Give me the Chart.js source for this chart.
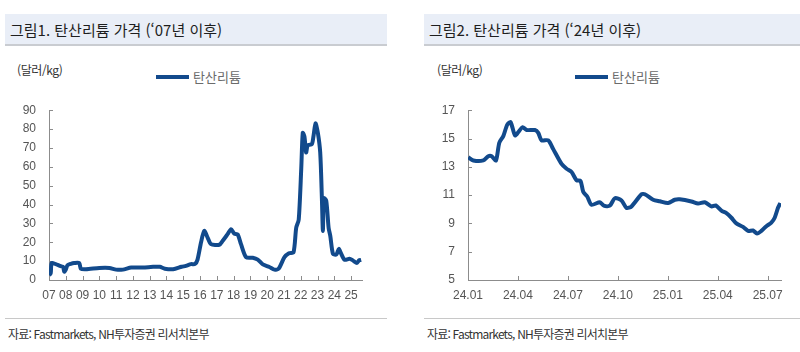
<!DOCTYPE html>
<html lang="ko">
<head>
<meta charset="utf-8">
<script src="https://cdn.jsdelivr.net/npm/chart.js@4/dist/chart.umd.min.js"></script>
<style>
  body { margin: 0; background: #fff; width: 800px; height: 352px; position: relative; overflow: hidden;
         font-family: "Noto Sans CJK KR", "Noto Sans", sans-serif; }
  .bar { position: absolute; top: 14px; height: 32px; background: #e9eef7; border-bottom: 2px solid #c9ccd1;
         font-size: 15px; line-height: 32px; color: #1e1e1e; padding-left: 5px; box-sizing: border-box; }
  .unit { position: absolute; top: 61px; font-size: 12px; color: #333; letter-spacing: -0.4px; }
  .legend { position: absolute; top: 67px; height: 20px; font-size: 13px; line-height: 20px; color: #6b6b6b; }
  .legend span { display: inline-block; width: 33px; height: 4px; vertical-align: middle; margin: -2px 4px 0 0; }
  .foot { position: absolute; top: 318px; height: 30px; border-top: 1px solid #c8c8c8;
          font-size: 12px; color: #333; letter-spacing: -0.8px; padding: 6px 0 0 3px; box-sizing: border-box; }
  canvas { position: absolute; top: 90px; }
</style>
</head>
<body>
<div class="bar" style="left:5px;width:382px">그림1. 탄산리튬 가격 (‘07년 이후)</div>
<div class="bar" style="left:424px;width:376px">그림2. 탄산리튬 가격 (‘24년 이후)</div>
<div class="unit" style="left:17px">(달러/kg)</div>
<div class="unit" style="left:437px">(달러/kg)</div>
<div class="legend" id="legendLong" style="left:156px"></div>
<div class="legend" id="legendRecent" style="left:575px"></div>
<canvas id="longChart" width="381" height="215" style="left:5px"></canvas>
<canvas id="recentChart" width="376" height="215" style="left:424px"></canvas>
<div class="foot" style="left:5px;width:382px">자료: Fastmarkets, NH투자증권 리서치본부</div>
<div class="foot" style="left:424px;width:376px">자료: Fastmarkets, NH투자증권 리서치본부</div>

<script>
// 그림1: '07년 이후 (x = 연도, 소수점은 연중 위치)
const longYears = [2007.0, 2007.1, 2007.16, 2007.4, 2007.7, 2007.84, 2007.91, 2008.0, 2008.1, 2008.3,
  2008.5, 2008.8, 2008.9, 2009.2, 2010.0, 2010.6, 2011.0, 2011.4, 2011.9, 2012.6,
  2013.2, 2013.6, 2013.9, 2014.4, 2014.9, 2015.16, 2015.46, 2015.7, 2015.85, 2016.06,
  2016.25, 2016.45, 2016.65, 2017.15, 2017.35, 2017.64, 2017.85, 2018.04, 2018.24, 2018.44,
  2018.74, 2019.14, 2019.44, 2019.74, 2020.13, 2020.43, 2020.69, 2021.03, 2021.3, 2021.57,
  2021.73, 2021.88, 2022.03, 2022.12, 2022.22, 2022.32, 2022.42, 2022.66, 2022.76, 2022.88,
  2023.02, 2023.16, 2023.26, 2023.32, 2023.38, 2023.52, 2023.66, 2023.76, 2023.92, 2024.12,
  2024.27, 2024.41, 2024.61, 2024.91, 2025.1, 2025.35, 2025.47, 2025.6]
const longPrice = [2.6, 3.5, 9, 8.4, 7.3, 7, 4.4, 5.5, 7.8, 8.6,
  9, 9, 6, 5.7, 6.4, 6.4, 5.5, 5.5, 6.6, 6.6,
  7, 7, 6, 5.7, 7, 7.5, 8.4, 8.5, 10.8, 20,
  26, 22.5, 19, 18.7, 20.8, 24.3, 26.9, 24.6, 24.2, 19,
  12.1, 11.8, 10.8, 8.3, 6.9, 5.5, 6.1, 12.1, 14.2, 14.7,
  27.7, 32, 59, 78, 76, 67.6, 71.5, 72, 76.3, 83,
  78, 67.6, 43.4, 26, 43.4, 42, 27.7, 23.4, 13.9, 13.5,
  16.5, 13.9, 10.7, 11.3, 10.4, 9.0, 10.4, 10.7]
const longTickLabels = ['07', '08', '09', '10', '11', '12', '13', '14', '15', '16',
  '17', '18', '19', '20', '21', '22', '23', '24', '25']

// 그림2: '24년 이후 (x = 24.01부터의 개월 수)
const recentMonths = [0.02, 0.32, 0.92, 1.22, 1.42, 1.68, 1.88, 2.12, 2.36, 2.56,
  2.82, 3.02, 3.28, 3.52, 4.02, 4.22, 4.42, 4.82, 5.12, 5.62,
  5.92, 6.22, 6.52, 6.76, 6.92, 7.16, 7.42, 7.92, 8.16, 8.52,
  8.82, 9.22, 9.52, 9.82, 10.42, 10.62, 11.12, 11.52, 12.02, 12.42,
  12.72, 13.42, 13.82, 14.22, 14.62, 14.88, 15.22, 15.52, 15.82, 16.12,
  16.52, 16.82, 17.12, 17.36, 17.62, 17.92, 18.22, 18.42, 18.62, 18.76]
const recentPrice = [13.67, 13.45, 13.45, 13.75, 13.75, 13.45, 14.7, 15.17, 15.98, 16.15,
  15.22, 15.45, 15.8, 15.6, 15.6, 15.4, 14.87, 14.87, 14.25, 13.2,
  12.86, 12.63, 12.05, 12.0, 11.24, 10.9, 10.32, 10.5, 10.25, 10.25,
  10.78, 10.62, 10.09, 10.2, 11.06, 11.06, 10.67, 10.56, 10.44, 10.67,
  10.7, 10.55, 10.4, 10.5, 10.2, 10.27, 9.9, 9.73, 9.4, 9.0,
  8.75, 8.47, 8.5, 8.28, 8.47, 8.8, 9.05, 9.4, 10.1, 10.44]
const recentTickLabels = ['24.01', '24.04', '24.07', '24.10', '25.01', '25.04', '25.07']

const seriesName = '탄산리튬'
const lineColor = '#124a8c'
const axisColor = '#8c8c8c'
const tickFont = { family: "'Liberation Sans Narrow', 'Liberation Sans', Arial, sans-serif", size: 12 }

/**
 * 축 안쪽으로 짧은 눈금선을 그린다.
 */
const innerTicks = {
    id: 'innerTicks',
    beforeDatasetsDraw(chart) {
        const { ctx, scales: { x, y } } = chart
        ctx.save()
        ctx.strokeStyle = axisColor
        ctx.lineWidth = 1
        ctx.beginPath()
        x.ticks.forEach(t => {
            const px = Math.round(x.getPixelForValue(t.value)) + 0.5
            ctx.moveTo(px, x.top)
            ctx.lineTo(px, x.top - 4)
        })
        y.ticks.forEach(t => {
            const py = Math.round(y.getPixelForValue(t.value)) + 0.5
            ctx.moveTo(y.right, py)
            ctx.lineTo(y.right + 4, py)
        })
        ctx.stroke()
        ctx.restore()
    }
}

/**
 * 범례: 데이터셋 색과 이름으로 선 견본과 글자를 만든다.
 */
function fillLegend(id, chart) {
    const ds = chart.data.datasets[0]
    const box = document.querySelector(id)
    const swatch = document.createElement('span')
    swatch.style.background = ds.borderColor
    box.appendChild(swatch)
    box.appendChild(document.createTextNode(ds.label))
}

function makeChart(canvasId, xs, ys, xMin, xMax, xStep, xLabels, yMin, yMax, yStep, padRight) {
    const points = xs.map((x, i) => ({ x: x, y: ys[i] }))
    return new Chart(document.querySelector(canvasId), {
        type: 'line',
        data: {
            datasets: [{
                label: seriesName,
                data: points,
                borderColor: lineColor,
                backgroundColor: lineColor,
                borderWidth: 4,
                pointRadius: 0,
                tension: 0.25
            }]
        },
        options: {
            responsive: false,
            animation: false,
            layout: { padding: { left: 0, right: padRight, top: 17, bottom: 0 } },
            plugins: {
                tooltip: { enabled: false },
                legend: { display: false }
            },
            scales: {
                x: {
                    type: 'linear',
                    min: xMin,
                    max: xMax,
                    grid: { display: false, drawTicks: false },
                    border: { display: true, color: axisColor, width: 1 },
                    afterFit(scale) { scale.height = 25 },
                    ticks: {
                        stepSize: xStep,
                        includeBounds: false,
                        autoSkip: false,
                        maxRotation: 0,
                        padding: 8,
                        color: '#555',
                        font: tickFont,
                        callback: (v, i) => xLabels[i]
                    }
                },
                y: {
                    min: yMin,
                    max: yMax,
                    grid: { display: false, drawTicks: false },
                    border: { display: true, color: axisColor, width: 1 },
                    afterFit(scale) { scale.width = 44 },
                    ticks: {
                        stepSize: yStep,
                        padding: 13,
                        color: '#555',
                        font: tickFont
                    }
                }
            }
        },
        plugins: [innerTicks]
    })
}

const longChart = makeChart('#longChart', longYears, longPrice, 2007, 2025.65, 1, longTickLabels, 0, 90, 10, 24)
const recentChart = makeChart('#recentChart', recentMonths, recentPrice, 0, 18.8, 3, recentTickLabels, 5, 17, 2, 19)
fillLegend('#legendLong', longChart)
fillLegend('#legendRecent', recentChart)
</script>
</body>
</html>
